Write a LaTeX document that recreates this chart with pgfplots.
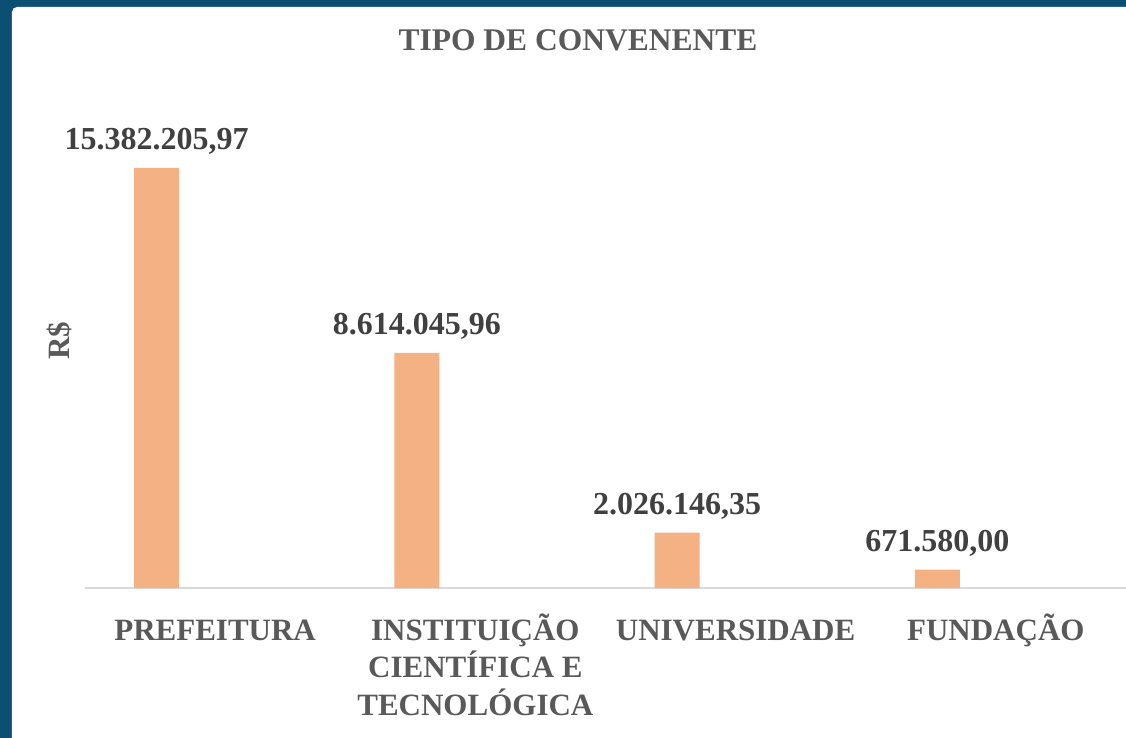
\documentclass[border=0pt]{standalone}
\usepackage{pgfplots}
\pgfplotsset{compat=1.18}
\usepackage{fontspec}
\setmainfont{Liberation Serif}
\definecolor{frame}{HTML}{0B4F73}
\definecolor{barc}{HTML}{F4B183}
\definecolor{txt}{HTML}{595959}
\definecolor{val}{HTML}{404040}
\definecolor{basec}{HTML}{D9D9D9}
\pgfplotstableread{
x y label
0 15382205.97 15.382.205,97
1 8614045.96 8.614.045,96
2 2026146.35 2.026.146,35
3 671580.00 671.580,00
}\datatab
\newcommand{\st}{\rule{0pt}{28pt}}
\begin{document}
\begin{tikzpicture}[x=1pt,y=1pt]
\fill[frame] (-85,-150) rectangle (1041,588);
\fill[white,rounded corners=5pt] (-73,-170) rectangle (1070,581);
\begin{axis}[
  at={(0,0)}, anchor=south west,
  scale only axis, width=1041pt, height=491.5pt,
  xmin=-0.5, xmax=3.5, ymin=0, ymax=18000000,
  axis x line*=bottom, axis y line=none,
  x axis line style={basec, line width=1.3pt},
  xtick={0,1,2,3},
  xticklabels={{\st PREFEITURA},{\st INSTITUIÇÃO\\CIENTÍFICA E\\TECNOLÓGICA},{\st UNIVERSIDADE},{\st FUNDAÇÃO}},
  major tick length=0pt,
  xticklabel style={font=\fontsize{31}{37.5}\selectfont\bfseries, text=txt, align=center, anchor=north, inner sep=0pt, yshift=-24pt},
  title={TIPO DE CONVENENTE},
  title style={at={(axis description cs:0.4736,1.0804)}, anchor=base, font=\fontsize{31.5}{36}\selectfont\bfseries, text=txt},
  ybar,
  clip=false,
]
\addplot[fill=barc, draw=none, bar width=45pt, bar shift=-58.5pt,
  nodes near coords, point meta=explicit symbolic,
  every node near coord/.append style={anchor=base, yshift=18pt, font=\fontsize{32}{36}\selectfont\bfseries, text=val}]
  table[x=x, y=y, meta=label] {\datatab};
\end{axis}
\node[rotate=90, anchor=center, font=\fontsize{31}{36}\selectfont\bfseries, text=txt] at (-26,247) {R\$};
\pgfresetboundingbox
\path (-85,-150) rectangle (1041,588);
\end{tikzpicture}
\end{document}
